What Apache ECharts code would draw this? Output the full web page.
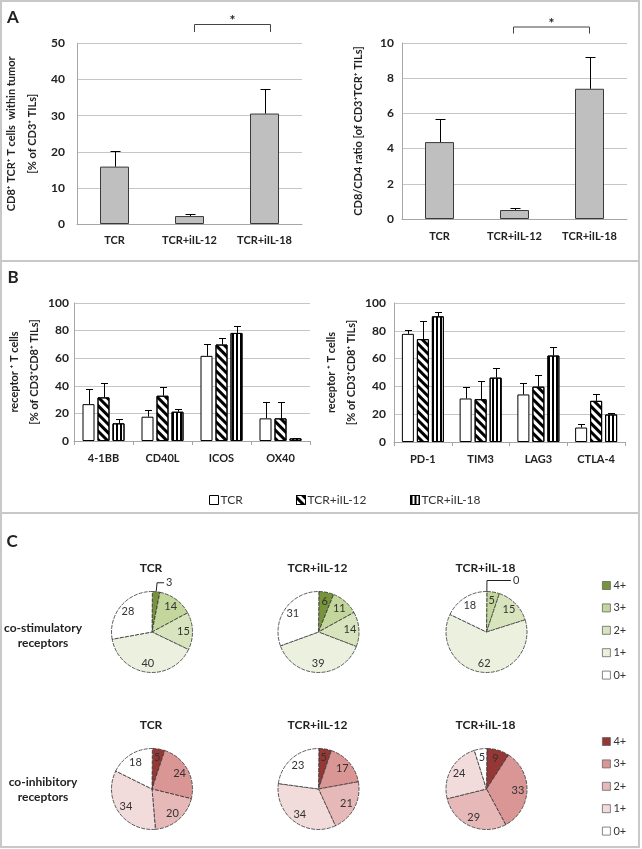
<!DOCTYPE html>
<html><head><meta charset="utf-8">
<script src="https://cdn.jsdelivr.net/npm/echarts@6/dist/echarts.min.js"></script>
<style>html,body{margin:0;padding:0;background:#fff}#c{width:642px;height:849px}</style>
</head><body><div id="c"></div>
<script>
// ---------- data ----------
const groupsA = ['TCR', 'TCR+iIL-12', 'TCR+iIL-18'];
const aLeftMean = [15.9, 2.2, 30.6];
const aLeftErr = [4.4, 0.6, 6.9];
const aRightMean = [4.37, 0.51, 7.4];
const aRightErr = [1.33, 0.09, 1.82];
const aLeftTicks = [0, 10, 20, 30, 40, 50];
const aRightTicks = [0, 2, 4, 6, 8, 10];
const bTicks = [0, 20, 40, 60, 80, 100];

const seriesNamesB = ['TCR', 'TCR+iIL-12', 'TCR+iIL-18'];
const coStimCats = ['4-1BB', 'CD40L', 'ICOS', 'OX40'];
const coInhCats = ['PD-1', 'TIM3', 'LAG3', 'CTLA-4'];
const bLeftTCR = [26.7, 17.6, 61.7, 16.4];
const bLeftTCRErr = [11.3, 4.8, 8.9, 11.6];
const bLeftIL12 = [31.6, 32.8, 69.9, 16.4];
const bLeftIL12Err = [10.1, 6.0, 4.8, 11.6];
const bLeftIL18 = [12.8, 21.2, 78.3, 1.9];
const bLeftIL18Err = [2.9, 1.7, 5.1, 0.5];
const bRightTCR = [77.8, 31.3, 34.2, 10.4];
const bRightTCRErr = [2.9, 8.5, 8.0, 2.9];
const bRightIL12 = [74.0, 30.8, 39.8, 29.6];
const bRightIL12Err = [12.7, 12.8, 8.2, 4.6];
const bRightIL18 = [90.4, 46.3, 62.2, 19.8];
const bRightIL18Err = [2.9, 6.7, 6.5, 0.9];

const pieLevels = ['4+', '3+', '2+', '1+', '0+'];
const pieGroups = ['TCR', 'TCR+iIL-12', 'TCR+iIL-18'];
const stimTCR = [3, 14, 15, 40, 28];
const stimIL12 = [6, 11, 14, 39, 31];
const stimIL18 = [0, 5, 15, 62, 18];
const inhTCR = [5, 24, 20, 34, 18];
const inhIL12 = [5, 17, 21, 34, 23];
const inhIL18 = [9, 33, 29, 24, 5];

// ---------- styles ----------
const FONT = "Lato, 'Open Sans', sans-serif";
const greens = ['#77933C', '#C3D69B', '#D7E4BD', '#EBF1DE', '#FFFFFF'];
const reds = ['#953735', '#D99694', '#E6B9B8', '#F2DCDB', '#FFFFFF'];
const AXC = '#a6a6a6';
const decalDiag = {symbol: 'rect', symbolSize: 1, color: '#000', dashArrayX: [1, 0], dashArrayY: [3, 3], rotation: Math.PI / 4};
const decalVert = {symbol: 'rect', symbolSize: 1, color: '#000', dashArrayX: [2, 2], dashArrayY: [1, 0], rotation: 0};

function xCat(gi, data, ticks, margin, fs) {
  return {type: 'category', gridIndex: gi, data: data,
    axisLine: {lineStyle: {color: AXC}},
    axisTick: {show: ticks, length: 4, lineStyle: {color: AXC}},
    axisLabel: {margin: margin, fontFamily: FONT, fontWeight: 'bold', fontSize: fs, color: '#222'}};
}
function yVal(gi, ticks, name, gap, margin, lh) {
  return {type: 'value', gridIndex: gi, min: ticks[0], max: ticks[ticks.length - 1],
    interval: ticks[1] - ticks[0],
    name: name, nameLocation: 'middle', nameGap: gap, nameRotate: 90,
    nameTextStyle: {fontFamily: FONT, fontWeight: 'bold', fontSize: 11, color: '#222', lineHeight: lh, align: 'center'},
    axisLine: {show: true, lineStyle: {color: AXC}}, axisTick: {show: false},
    splitLine: {lineStyle: {color: '#c6c6c6'}},
    axisLabel: {margin: margin, fontFamily: FONT, fontWeight: 'bold', fontSize: 12, color: '#222'}};
}
function errSeries(xi, data, offset, cap) {
  return {type: 'custom', xAxisIndex: xi, yAxisIndex: xi, z: 5, silent: true, animation: false,
    encode: {x: 0, y: [1, 2]}, data: data,
    renderItem: function (params, api) {
      const lo = api.coord([api.value(0), api.value(1)]);
      const hi = api.coord([api.value(0), api.value(2)]);
      const x = Math.round(lo[0] + offset) + 0.5;
      const yh = Math.round(hi[1]) + 0.5;
      return {type: 'group', children: [
        {type: 'line', shape: {x1: x, y1: lo[1], x2: x, y2: yh}, style: {stroke: '#000', lineWidth: 1}},
        {type: 'line', shape: {x1: x - cap, y1: yh, x2: x + cap, y2: yh}, style: {stroke: '#000', lineWidth: 1}}
      ]};
    }};
}
function errData(mean, err) { return mean.map((m, i) => [i, m, m + err[i]]); }

function barA(xi, vals) {
  return {type: 'bar', xAxisIndex: xi, yAxisIndex: xi, data: vals, barWidth: 29, silent: true, animation: false,
    itemStyle: {color: '#BFBFBF', borderColor: '#3a3a3a', borderWidth: 1}};
}
function barB(xi, name, vals, decal) {
  const st = {color: '#FFFFFF', borderColor: '#000', borderWidth: 1};
  if (decal) st.decal = decal;
  return {type: 'bar', name: name, xAxisIndex: xi, yAxisIndex: xi, data: vals, barWidth: 12, barGap: '25%',
    silent: true, animation: false, itemStyle: st};
}

const PIE_START = 89.5;
function pieSeries(vals, colors, cx, cy) {
  const vis = {type: 'pie', center: [cx, cy], radius: 40.5, startAngle: PIE_START, clockwise: true,
    avoidLabelOverlap: false, animation: false, silent: true,
    itemStyle: {borderColor: '#333', borderWidth: 0.8, borderType: [4, 1.2]},
    label: {show: false}, labelLine: {show: false},
    data: vals.map((v, i) => {
      const d = {name: pieLevels[i], value: v, itemStyle: {color: colors[i]}};
      if (v < 5) {
        d.label = {show: true, position: 'outside', formatter: '{c}', fontFamily: FONT, fontSize: 11,
          color: '#333', distanceToLabelLine: 2};
        d.labelLine = {show: true, length: v === 0 ? 11 : 9, length2: v === 0 ? 24 : 7,
          lineStyle: {color: '#222', width: 1}};
      }
      return d;
    })};
  const lab = {type: 'pie', center: [cx, cy], radius: 57, startAngle: PIE_START, clockwise: true,
    avoidLabelOverlap: false, animation: false, silent: true, z: 4,
    itemStyle: {color: 'rgba(0,0,0,0)', borderWidth: 0},
    label: {show: true, position: 'inside', formatter: '{c}', fontFamily: FONT, fontSize: 11, color: '#333'},
    labelLine: {show: false},
    data: vals.map((v, i) => ({name: pieLevels[i], value: v, label: {show: v >= 5}}))};
  return [vis, lab];
}

function pieLegend(top, colors) {
  return {orient: 'vertical', left: 597, top: top, itemWidth: 8, itemHeight: 8, itemGap: 11.4,
    icon: 'rect', selectedMode: false,
    textStyle: {fontFamily: FONT, fontSize: 11, color: '#333', padding: [0, 0, 0, -2]},
    data: pieLevels.map((n, i) => ({name: n, itemStyle: {color: colors[i], borderColor: '#666', borderWidth: 0.8, decal: 'none'}}))};
}
function barLegend(left, name) {
  return {left: left, top: 489, itemWidth: 9, itemHeight: 9, icon: 'rect', selectedMode: false,
    textStyle: {fontFamily: FONT, fontSize: 12, color: '#333', padding: [0, 0, 0, -3]},
    data: [{name: name, itemStyle: {borderColor: '#000', borderWidth: 1}}]};
}

const pieX = [152, 318.5, 486.5];
const pieY = [632, 789];

const option = {
  animation: false,
  backgroundColor: '#fff',
  grid: [
    {left: 77, top: 43.5, width: 225, height: 180.5, outerBoundsMode: 'none'},
    {left: 402, top: 43, width: 225, height: 176, outerBoundsMode: 'none'},
    {left: 74, top: 303, width: 236, height: 138, outerBoundsMode: 'none'},
    {left: 394, top: 303, width: 231, height: 139, outerBoundsMode: 'none'}
  ],
  xAxis: [
    xCat(0, groupsA, false, 11, 11),
    xCat(1, groupsA, false, 12, 11),
    xCat(2, coStimCats, true, 12, 11),
    xCat(3, coInhCats, true, 12, 11)
  ],
  yAxis: [
    yVal(0, aLeftTicks, 'CD8\u207A TCR\u207A T cells  within tumor\n[% of CD3\u207A TILs]', 34, 12, 21),
    yVal(1, aRightTicks, 'CD8/CD4 ratio [of CD3\u207ATCR\u207A TILs]', 37, 8, 14),
    yVal(2, bTicks, 'receptor \u207A T cells\n[% of CD3\u207ACD8\u207A TILs]', 27, 5, 20),
    yVal(3, bTicks, 'receptor \u207A T cells\n[% of CD3\u207ACD8\u207A TILs]', 24, 8, 20)
  ],
  legend: [
    barLegend(204, seriesNamesB[0]),
    barLegend(291, seriesNamesB[1]),
    barLegend(405, seriesNamesB[2]),
    pieLegend(575, greens),
    pieLegend(731, reds)
  ],
  series: [].concat(
    [barA(0, aLeftMean), errSeries(0, errData(aLeftMean, aLeftErr), 0, 5)],
    [barA(1, aRightMean), errSeries(1, errData(aRightMean, aRightErr), 0, 5)],
    [barB(2, seriesNamesB[0], bLeftTCR, null), barB(2, seriesNamesB[1], bLeftIL12, decalDiag), barB(2, seriesNamesB[2], bLeftIL18, decalVert)],
    [errSeries(2, errData(bLeftTCR, bLeftTCRErr), -15, 3.5), errSeries(2, errData(bLeftIL12, bLeftIL12Err), 0, 3.5), errSeries(2, errData(bLeftIL18, bLeftIL18Err), 15, 3.5)],
    [barB(3, seriesNamesB[0], bRightTCR, null), barB(3, seriesNamesB[1], bRightIL12, decalDiag), barB(3, seriesNamesB[2], bRightIL18, decalVert)],
    [errSeries(3, errData(bRightTCR, bRightTCRErr), -15, 3.5), errSeries(3, errData(bRightIL12, bRightIL12Err), 0, 3.5), errSeries(3, errData(bRightIL18, bRightIL18Err), 15, 3.5)],
    pieSeries(stimTCR, greens, pieX[0], pieY[0]),
    pieSeries(stimIL12, greens, pieX[1], pieY[0]),
    pieSeries(stimIL18, greens, pieX[2], pieY[0]),
    pieSeries(inhTCR, reds, pieX[0], pieY[1]),
    pieSeries(inhIL12, reds, pieX[1], pieY[1]),
    pieSeries(inhIL18, reds, pieX[2], pieY[1])
  )
};

const chart = echarts.init(document.getElementById('c'), null, {renderer: 'canvas'});
chart.setOption(option);

// ---------- annotations ----------
function txt(x, y, text, size, weight, align) {
  return {type: 'text', x: x, y: y, silent: true, z: 10,
    style: {text: text, fontFamily: FONT, fontSize: size, fontWeight: weight || 'bold', fill: '#222',
      align: align || 'center', verticalAlign: 'middle'}};
}
function bracket(xi, fromIdx, toIdx, dx1, dx2, yTop, yBot) {
  const x1 = Math.round(chart.convertToPixel({xAxisIndex: xi}, fromIdx) + dx1) + 0.5;
  const x2 = Math.round(chart.convertToPixel({xAxisIndex: xi}, toIdx) + dx2) + 0.5;
  return [
    {type: 'polyline', silent: true, z: 10, shape: {points: [[x1, yBot], [x1, yTop], [x2, yTop], [x2, yBot]]},
      style: {stroke: '#444', lineWidth: 1, fill: null}},
    txt((x1 + x2) / 2, yTop - 4, '*', 14, 'bold')
  ];
}
const g = [
  {type: 'rect', silent: true, z: 0, shape: {x: 1, y: 1, width: 638, height: 846}, style: {fill: null, stroke: '#c8c8c8', lineWidth: 2}},
  {type: 'line', silent: true, shape: {x1: 1, y1: 261, x2: 639, y2: 261}, style: {stroke: '#c8c8c8', lineWidth: 2}},
  {type: 'line', silent: true, shape: {x1: 1, y1: 513, x2: 639, y2: 513}, style: {stroke: '#c8c8c8', lineWidth: 2}},
  txt(13, 18, 'A', 17), txt(13, 278, 'B', 17), txt(12, 542, 'C', 17),
  txt(43, 628, 'co-stimulatory', 12), txt(43, 643, 'receptors', 12),
  txt(43, 782, 'co-inhibitory', 12), txt(43, 797, 'receptors', 12)
].concat(
  bracket(0, 1, 2, 4, 5, 24.5, 32),
  bracket(1, 1, 2, -2, -1, 27, 33.5),
  pieGroups.map((t, i) => txt(pieX[i] - 1, 568, t, 12)),
  pieGroups.map((t, i) => txt(pieX[i] - 1, 725, t, 12))
);
chart.setOption({graphic: g});
</script>
</body></html>
